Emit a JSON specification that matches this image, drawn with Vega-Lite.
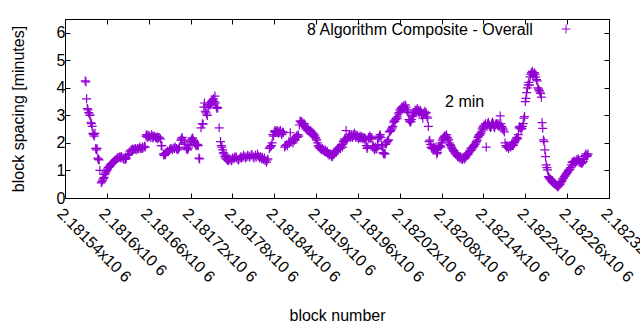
{
"$schema": "https://vega.github.io/schema/vega-lite/v6.json",
"width": 544, "height": 179,
"autosize": "none",
"padding": {"left": 65, "top": 19, "right": 31, "bottom": 132},
"background": "white",
"config": {
 "font": "Liberation Sans",
 "view": {"stroke": "black", "strokeWidth": 1},
 "axis": {"grid": false, "domainColor": "black", "tickColor": "black", "labelColor": "black", "titleColor": "black", "labelFont": "Liberation Sans", "titleFont": "Liberation Sans", "labelFontSize": 16, "titleFontSize": 16, "titleFontWeight": "normal", "tickSize": -5, "labelOverlap": false, "labelFlush": false, "labelBound": false}
},
"resolve": {"axis": {"x": "independent", "y": "independent"}},
"datasets": {"pts": [
{"b":2181569,"v":4.25},{"b":2181570,"v":4.22},{"b":2181571,"v":3.6},{"b":2181572,"v":3.25},{"b":2181573,"v":3.2},{"b":2181574,"v":3.1},{"b":2181575,"v":3.05},{"b":2181576,"v":3.0},{"b":2181577,"v":2.75},{"b":2181578,"v":2.7},{"b":2181579,"v":2.6},{"b":2181580,"v":2.35},{"b":2181581,"v":2.3},{"b":2181582,"v":2.25},{"b":2181583,"v":2.35},{"b":2181584,"v":1.8},{"b":2181585,"v":1.75},{"b":2181586,"v":1.8},{"b":2181587,"v":1.45},{"b":2181588,"v":1.4},{"b":2181589,"v":1.38},{"b":2181590,"v":1.0},{"b":2181592,"v":0.55},{"b":2181593,"v":0.6},{"b":2181594,"v":0.65},{"b":2181595,"v":0.7},{"b":2181596,"v":0.75},{"b":2181597,"v":0.85},{"b":2181598,"v":0.9},{"b":2181599,"v":0.95},
{"b":2181600,"v":1.0},{"b":2181601,"v":1.05},{"b":2181602,"v":1.1},{"b":2181603,"v":1.12},{"b":2181604,"v":1.15},{"b":2181605,"v":1.2},{"b":2181606,"v":1.22},{"b":2181607,"v":1.25},{"b":2181608,"v":1.28},{"b":2181610,"v":1.3},{"b":2181611,"v":1.35},{"b":2181612,"v":1.38},{"b":2181614,"v":1.42},{"b":2181615,"v":1.45},{"b":2181616,"v":1.47},{"b":2181618,"v":1.48},{"b":2181619,"v":1.5},{"b":2181620,"v":1.45},{"b":2181621,"v":1.5},{"b":2181623,"v":1.45},{"b":2181624,"v":1.42},{"b":2181626,"v":1.4},{"b":2181627,"v":1.42},{"b":2181628,"v":1.45},{"b":2181630,"v":1.55},{"b":2181631,"v":1.58},{"b":2181632,"v":1.62},{"b":2181633,"v":1.7},{"b":2181635,"v":1.75},{"b":2181636,"v":1.72},{"b":2181637,"v":1.78},{"b":2181638,"v":1.75},{"b":2181640,"v":1.77},{"b":2181641,"v":1.8},{"b":2181642,"v":1.75},{"b":2181644,"v":1.8},{"b":2181645,"v":1.78},{"b":2181647,"v":1.85},{"b":2181648,"v":1.8},{"b":2181650,"v":1.8},{"b":2181651,"v":1.85},{"b":2181652,"v":1.82},{"b":2181654,"v":1.88},{"b":2181655,"v":1.85},{"b":2181656,"v":2.25},{"b":2181657,"v":2.3},{"b":2181658,"v":2.2},{"b":2181659,"v":2.28},{"b":2181660,"v":2.22},{"b":2181661,"v":2.25},{"b":2181663,"v":2.2},{"b":2181664,"v":2.3},{"b":2181665,"v":2.25},{"b":2181666,"v":2.18},{"b":2181667,"v":2.22},{"b":2181668,"v":2.25},{"b":2181670,"v":2.2},{"b":2181671,"v":2.18},{"b":2181672,"v":2.22},{"b":2181673,"v":2.15},{"b":2181674,"v":2.2},{"b":2181675,"v":2.2},{"b":2181677,"v":2.15},{"b":2181678,"v":1.9},{"b":2181679,"v":1.9},{"b":2181681,"v":1.6},{"b":2181682,"v":1.55},{"b":2181683,"v":1.6},{"b":2181684,"v":1.58},{"b":2181685,"v":1.65},{"b":2181687,"v":1.7},{"b":2181688,"v":1.68},{"b":2181690,"v":1.75},{"b":2181691,"v":1.78},{"b":2181692,"v":1.8},{"b":2181694,"v":1.75},{"b":2181695,"v":1.82},{"b":2181697,"v":1.8},{"b":2181698,"v":1.85},
{"b":2181700,"v":1.8},{"b":2181701,"v":1.75},{"b":2181703,"v":1.78},{"b":2181704,"v":1.85},{"b":2181706,"v":2.1},{"b":2181707,"v":2.15},{"b":2181708,"v":2.2},{"b":2181709,"v":2.1},{"b":2181711,"v":2.0},{"b":2181712,"v":1.95},{"b":2181714,"v":1.8},{"b":2181715,"v":1.78},{"b":2181716,"v":1.75},{"b":2181717,"v":1.82},{"b":2181719,"v":1.9},{"b":2181720,"v":2.05},{"b":2181721,"v":2.1},{"b":2181722,"v":2.15},{"b":2181723,"v":2.18},{"b":2181724,"v":2.1},{"b":2181725,"v":2.05},{"b":2181726,"v":2.0},{"b":2181727,"v":1.95},{"b":2181728,"v":1.9},{"b":2181729,"v":1.92},{"b":2181730,"v":1.95},{"b":2181731,"v":1.9},{"b":2181732,"v":1.45},{"b":2181733,"v":1.42},{"b":2181735,"v":2.55},{"b":2181737,"v":2.7},{"b":2181738,"v":2.68},{"b":2181739,"v":3.3},{"b":2181740,"v":3.45},{"b":2181741,"v":3.15},{"b":2181742,"v":3.12},{"b":2181743,"v":3.05},{"b":2181744,"v":3.0},{"b":2181745,"v":3.3},{"b":2181746,"v":3.35},{"b":2181747,"v":3.4},{"b":2181748,"v":3.45},{"b":2181749,"v":3.38},{"b":2181750,"v":3.5},{"b":2181751,"v":3.55},{"b":2181752,"v":3.55},{"b":2181753,"v":3.6},{"b":2181754,"v":3.5},{"b":2181755,"v":3.7},{"b":2181756,"v":3.45},{"b":2181757,"v":3.3},{"b":2181758,"v":3.25},{"b":2181759,"v":3.28},{"b":2181761,"v":2.55},{"b":2181763,"v":2.05},{"b":2181764,"v":1.9},{"b":2181765,"v":1.85},{"b":2181766,"v":1.75},{"b":2181767,"v":1.65},{"b":2181768,"v":1.6},{"b":2181769,"v":1.5},{"b":2181770,"v":1.45},{"b":2181771,"v":1.55},{"b":2181772,"v":1.4},{"b":2181773,"v":1.38},{"b":2181774,"v":1.35},{"b":2181775,"v":1.4},{"b":2181776,"v":1.42},{"b":2181778,"v":1.38},{"b":2181779,"v":1.35},{"b":2181780,"v":1.45},{"b":2181782,"v":1.42},{"b":2181783,"v":1.48},{"b":2181785,"v":1.5},{"b":2181786,"v":1.45},{"b":2181788,"v":1.4},{"b":2181789,"v":1.38},{"b":2181791,"v":1.45},{"b":2181792,"v":1.5},{"b":2181793,"v":1.45},{"b":2181795,"v":1.48},{"b":2181796,"v":1.55},{"b":2181798,"v":1.5},{"b":2181799,"v":1.45},
{"b":2181801,"v":1.5},{"b":2181802,"v":1.55},{"b":2181804,"v":1.52},{"b":2181805,"v":1.48},{"b":2181807,"v":1.55},{"b":2181808,"v":1.58},{"b":2181810,"v":1.5},{"b":2181811,"v":1.45},{"b":2181813,"v":1.55},{"b":2181814,"v":1.48},{"b":2181816,"v":1.6},{"b":2181817,"v":1.52},{"b":2181819,"v":1.45},{"b":2181820,"v":1.5},{"b":2181822,"v":1.42},{"b":2181823,"v":1.48},{"b":2181825,"v":1.4},{"b":2181826,"v":1.45},{"b":2181827,"v":1.35},{"b":2181829,"v":1.3},{"b":2181830,"v":1.38},{"b":2181831,"v":1.42},{"b":2181833,"v":1.8},{"b":2181834,"v":1.85},{"b":2181835,"v":1.88},{"b":2181836,"v":1.9},{"b":2181837,"v":2.0},{"b":2181838,"v":2.3},{"b":2181839,"v":2.25},{"b":2181840,"v":2.4},{"b":2181841,"v":2.45},{"b":2181842,"v":2.38},{"b":2181843,"v":2.42},{"b":2181844,"v":2.45},{"b":2181845,"v":2.4},{"b":2181846,"v":2.35},{"b":2181847,"v":2.42},{"b":2181848,"v":2.38},{"b":2181849,"v":2.45},{"b":2181850,"v":2.35},{"b":2181851,"v":2.3},{"b":2181852,"v":2.4},{"b":2181853,"v":2.38},{"b":2181855,"v":1.85},{"b":2181856,"v":1.9},{"b":2181858,"v":1.95},{"b":2181859,"v":1.9},{"b":2181861,"v":2.05},{"b":2181862,"v":2.0},{"b":2181863,"v":2.37},{"b":2181864,"v":2.05},{"b":2181866,"v":2.1},{"b":2181867,"v":2.0},{"b":2181868,"v":2.15},{"b":2181869,"v":2.1},{"b":2181870,"v":2.12},{"b":2181871,"v":2.2},{"b":2181872,"v":2.25},{"b":2181873,"v":2.2},{"b":2181874,"v":2.3},{"b":2181875,"v":2.25},{"b":2181876,"v":2.65},{"b":2181877,"v":2.8},{"b":2181878,"v":2.75},{"b":2181879,"v":2.78},{"b":2181880,"v":2.7},{"b":2181881,"v":2.72},{"b":2181882,"v":2.65},{"b":2181883,"v":2.7},{"b":2181884,"v":2.6},{"b":2181885,"v":2.55},{"b":2181886,"v":2.5},{"b":2181887,"v":2.55},{"b":2181888,"v":2.45},{"b":2181889,"v":2.5},{"b":2181890,"v":2.42},{"b":2181891,"v":2.4},{"b":2181892,"v":2.45},{"b":2181893,"v":2.35},{"b":2181894,"v":2.4},{"b":2181895,"v":2.3},{"b":2181896,"v":2.35},{"b":2181897,"v":2.25},{"b":2181898,"v":2.28},{"b":2181899,"v":2.2},
{"b":2181900,"v":2.15},{"b":2181901,"v":2.1},{"b":2181902,"v":2.0},{"b":2181903,"v":1.9},{"b":2181904,"v":1.85},{"b":2181905,"v":1.85},{"b":2181906,"v":1.8},{"b":2181907,"v":1.78},{"b":2181908,"v":1.75},{"b":2181909,"v":1.8},{"b":2181910,"v":1.75},{"b":2181911,"v":1.72},{"b":2181912,"v":1.7},{"b":2181913,"v":1.75},{"b":2181914,"v":1.68},{"b":2181915,"v":1.65},{"b":2181916,"v":1.7},{"b":2181917,"v":1.6},{"b":2181918,"v":1.62},{"b":2181919,"v":1.55},{"b":2181920,"v":1.58},{"b":2181921,"v":1.6},{"b":2181922,"v":1.52},{"b":2181923,"v":1.5},{"b":2181924,"v":1.55},{"b":2181925,"v":1.58},{"b":2181926,"v":1.6},{"b":2181927,"v":1.65},{"b":2181928,"v":1.7},{"b":2181929,"v":1.72},{"b":2181930,"v":1.75},{"b":2181931,"v":1.8},{"b":2181932,"v":1.78},{"b":2181933,"v":1.82},{"b":2181934,"v":1.85},{"b":2181935,"v":1.8},{"b":2181936,"v":1.9},{"b":2181937,"v":1.95},{"b":2181938,"v":1.85},{"b":2181939,"v":2.05},{"b":2181940,"v":2.1},{"b":2181941,"v":2.15},{"b":2181942,"v":2.1},{"b":2181943,"v":2.45},{"b":2181944,"v":2.1},{"b":2181945,"v":2.15},{"b":2181946,"v":2.2},{"b":2181947,"v":2.25},{"b":2181948,"v":2.3},{"b":2181949,"v":2.2},{"b":2181950,"v":2.25},{"b":2181951,"v":2.3},{"b":2181952,"v":2.2},{"b":2181953,"v":2.3},{"b":2181954,"v":2.25},{"b":2181955,"v":2.35},{"b":2181956,"v":2.3},{"b":2181957,"v":2.2},{"b":2181958,"v":2.25},{"b":2181959,"v":2.28},{"b":2181960,"v":2.2},{"b":2181961,"v":2.15},{"b":2181962,"v":2.2},{"b":2181963,"v":2.25},{"b":2181964,"v":2.18},{"b":2181965,"v":2.22},{"b":2181966,"v":2.2},{"b":2181967,"v":2.15},{"b":2181968,"v":2.18},{"b":2181969,"v":2.2},{"b":2181970,"v":2.1},{"b":2181971,"v":2.15},{"b":2181972,"v":1.9},{"b":2181973,"v":1.8},{"b":2181974,"v":1.85},{"b":2181975,"v":2.2},{"b":2181976,"v":2.15},{"b":2181977,"v":2.25},{"b":2181978,"v":2.2},{"b":2181979,"v":2.15},{"b":2181980,"v":2.2},{"b":2181981,"v":1.85},{"b":2181982,"v":1.9},{"b":2181983,"v":1.8},{"b":2181984,"v":1.75},{"b":2181985,"v":1.85},{"b":2181986,"v":1.8},{"b":2181987,"v":1.78},{"b":2181988,"v":1.95},{"b":2181989,"v":2.15},{"b":2181990,"v":2.2},{"b":2181991,"v":2.25},{"b":2181992,"v":2.3},{"b":2181993,"v":2.2},{"b":2181994,"v":1.9},{"b":2181995,"v":1.85},{"b":2181996,"v":1.65},{"b":2181997,"v":1.6},{"b":2181998,"v":1.62},{"b":2181999,"v":1.6},
{"b":2182000,"v":1.95},{"b":2182001,"v":2.0},{"b":2182002,"v":2.05},{"b":2182003,"v":2.1},{"b":2182004,"v":2.1},{"b":2182005,"v":2.4},{"b":2182006,"v":2.42},{"b":2182007,"v":2.45},{"b":2182008,"v":2.5},{"b":2182009,"v":2.55},{"b":2182010,"v":2.6},{"b":2182011,"v":2.75},{"b":2182012,"v":2.8},{"b":2182013,"v":2.78},{"b":2182014,"v":2.85},{"b":2182015,"v":2.9},{"b":2182016,"v":2.88},{"b":2182017,"v":2.95},{"b":2182018,"v":3.05},{"b":2182019,"v":3.1},{"b":2182020,"v":3.2},{"b":2182021,"v":3.15},{"b":2182022,"v":3.25},{"b":2182023,"v":3.3},{"b":2182024,"v":3.28},{"b":2182025,"v":3.32},{"b":2182026,"v":3.35},{"b":2182027,"v":3.25},{"b":2182028,"v":3.38},{"b":2182029,"v":3.3},{"b":2182030,"v":3.2},{"b":2182031,"v":3.15},{"b":2182032,"v":3.1},{"b":2182033,"v":2.85},{"b":2182034,"v":2.8},{"b":2182035,"v":2.75},{"b":2182036,"v":2.78},{"b":2182037,"v":2.85},{"b":2182038,"v":3.0},{"b":2182039,"v":2.95},{"b":2182040,"v":3.05},{"b":2182041,"v":3.1},{"b":2182042,"v":3.2},{"b":2182043,"v":3.15},{"b":2182044,"v":3.18},{"b":2182045,"v":3.25},{"b":2182046,"v":3.2},{"b":2182047,"v":3.15},{"b":2182048,"v":3.1},{"b":2182049,"v":3.2},{"b":2182050,"v":3.15},{"b":2182051,"v":3.05},{"b":2182052,"v":3.0},{"b":2182053,"v":2.9},{"b":2182054,"v":3.05},{"b":2182055,"v":3.1},{"b":2182056,"v":3.15},{"b":2182057,"v":3.05},{"b":2182058,"v":3.1},{"b":2182059,"v":2.95},{"b":2182060,"v":2.9},{"b":2182061,"v":2.6},{"b":2182062,"v":2.05},{"b":2182063,"v":2.1},{"b":2182064,"v":1.95},{"b":2182065,"v":1.85},{"b":2182066,"v":1.8},{"b":2182067,"v":1.82},{"b":2182068,"v":1.78},{"b":2182069,"v":1.85},{"b":2182070,"v":1.8},{"b":2182071,"v":1.75},{"b":2182072,"v":1.85},{"b":2182073,"v":1.6},{"b":2182074,"v":1.65},{"b":2182075,"v":1.8},{"b":2182076,"v":1.85},{"b":2182077,"v":1.88},{"b":2182078,"v":1.9},{"b":2182079,"v":1.85},{"b":2182080,"v":2.0},{"b":2182081,"v":2.1},{"b":2182082,"v":2.15},{"b":2182083,"v":2.2},{"b":2182084,"v":2.25},{"b":2182085,"v":2.2},{"b":2182086,"v":2.25},{"b":2182087,"v":2.3},{"b":2182088,"v":2.2},{"b":2182089,"v":2.15},{"b":2182090,"v":2.1},{"b":2182091,"v":2.0},{"b":2182092,"v":1.95},{"b":2182093,"v":1.9},{"b":2182094,"v":1.85},{"b":2182095,"v":1.8},{"b":2182096,"v":1.75},{"b":2182097,"v":1.7},{"b":2182098,"v":1.72},{"b":2182099,"v":1.65},
{"b":2182100,"v":1.6},{"b":2182101,"v":1.62},{"b":2182102,"v":1.55},{"b":2182103,"v":1.5},{"b":2182104,"v":1.52},{"b":2182105,"v":1.48},{"b":2182106,"v":1.45},{"b":2182107,"v":1.5},{"b":2182108,"v":1.42},{"b":2182109,"v":1.45},{"b":2182110,"v":1.4},{"b":2182111,"v":1.48},{"b":2182112,"v":1.45},{"b":2182113,"v":1.42},{"b":2182114,"v":1.5},{"b":2182115,"v":1.48},{"b":2182116,"v":1.55},{"b":2182117,"v":1.6},{"b":2182118,"v":1.58},{"b":2182119,"v":1.65},{"b":2182120,"v":1.7},{"b":2182121,"v":1.72},{"b":2182122,"v":1.8},{"b":2182123,"v":1.75},{"b":2182124,"v":1.85},{"b":2182125,"v":1.82},{"b":2182126,"v":1.9},{"b":2182127,"v":1.88},{"b":2182128,"v":1.95},{"b":2182129,"v":2.0},{"b":2182130,"v":2.05},{"b":2182131,"v":2.1},{"b":2182132,"v":2.2},{"b":2182133,"v":2.25},{"b":2182134,"v":2.3},{"b":2182135,"v":2.28},{"b":2182136,"v":2.35},{"b":2182137,"v":2.4},{"b":2182138,"v":2.5},{"b":2182139,"v":2.55},{"b":2182140,"v":2.6},{"b":2182141,"v":2.65},{"b":2182142,"v":2.6},{"b":2182143,"v":2.7},{"b":2182144,"v":1.85},{"b":2182145,"v":2.6},{"b":2182146,"v":2.7},{"b":2182147,"v":2.75},{"b":2182148,"v":2.65},{"b":2182149,"v":2.6},{"b":2182150,"v":2.55},{"b":2182151,"v":2.6},{"b":2182152,"v":2.7},{"b":2182153,"v":2.75},{"b":2182154,"v":2.7},{"b":2182155,"v":2.6},{"b":2182156,"v":2.55},{"b":2182157,"v":2.65},{"b":2182158,"v":2.7},{"b":2182159,"v":2.7},{"b":2182160,"v":2.65},{"b":2182161,"v":2.7},{"b":2182162,"v":2.6},{"b":2182163,"v":2.65},{"b":2182164,"v":2.98},{"b":2182165,"v":2.7},{"b":2182166,"v":2.6},{"b":2182167,"v":2.55},{"b":2182168,"v":2.5},{"b":2182169,"v":2.47},{"b":2182170,"v":2.4},{"b":2182171,"v":2.0},{"b":2182172,"v":1.9},{"b":2182173,"v":1.85},{"b":2182174,"v":1.9},{"b":2182175,"v":1.85},{"b":2182176,"v":1.8},{"b":2182177,"v":1.9},{"b":2182178,"v":1.88},{"b":2182179,"v":1.85},{"b":2182180,"v":1.9},{"b":2182181,"v":1.95},{"b":2182182,"v":1.9},{"b":2182183,"v":1.92},{"b":2182184,"v":2.0},{"b":2182185,"v":2.05},{"b":2182186,"v":2.1},{"b":2182187,"v":2.15},{"b":2182188,"v":2.2},{"b":2182189,"v":2.15},{"b":2182190,"v":2.3},{"b":2182191,"v":2.55},{"b":2182192,"v":2.6},{"b":2182193,"v":2.55},{"b":2182194,"v":2.5},{"b":2182195,"v":2.53},{"b":2182196,"v":2.6},{"b":2182197,"v":2.7},{"b":2182198,"v":2.9},{"b":2182199,"v":2.96},
{"b":2182200,"v":3.5},{"b":2182201,"v":3.62},{"b":2182202,"v":3.83},{"b":2182203,"v":4.0},{"b":2182204,"v":4.11},{"b":2182205,"v":4.2},{"b":2182206,"v":4.1},{"b":2182207,"v":4.4},{"b":2182208,"v":4.5},{"b":2182209,"v":4.55},{"b":2182210,"v":4.6},{"b":2182211,"v":4.45},{"b":2182212,"v":4.5},{"b":2182213,"v":4.55},{"b":2182214,"v":4.5},{"b":2182215,"v":4.4},{"b":2182216,"v":4.3},{"b":2182217,"v":4.25},{"b":2182218,"v":4.0},{"b":2182219,"v":3.95},{"b":2182220,"v":3.9},{"b":2182221,"v":3.85},{"b":2182222,"v":3.8},{"b":2182223,"v":3.66},{"b":2182224,"v":2.74},{"b":2182225,"v":2.53},{"b":2182226,"v":2.11},{"b":2182227,"v":2.05},{"b":2182228,"v":1.75},{"b":2182229,"v":1.5},{"b":2182230,"v":1.2},{"b":2182231,"v":1.1},{"b":2182232,"v":1.02},{"b":2182233,"v":0.78},{"b":2182234,"v":0.75},{"b":2182235,"v":0.7},{"b":2182236,"v":0.68},{"b":2182237,"v":0.65},{"b":2182238,"v":0.6},{"b":2182239,"v":0.58},{"b":2182240,"v":0.55},{"b":2182241,"v":0.55},{"b":2182242,"v":0.5},{"b":2182243,"v":0.52},{"b":2182244,"v":0.48},{"b":2182245,"v":0.45},{"b":2182246,"v":0.42},{"b":2182247,"v":0.4},{"b":2182248,"v":0.45},{"b":2182249,"v":0.48},{"b":2182250,"v":0.5},{"b":2182251,"v":0.55},{"b":2182252,"v":0.6},{"b":2182253,"v":0.65},{"b":2182254,"v":0.7},{"b":2182255,"v":0.72},{"b":2182256,"v":0.78},{"b":2182257,"v":0.8},{"b":2182258,"v":0.85},{"b":2182259,"v":0.88},{"b":2182260,"v":0.92},{"b":2182261,"v":0.95},{"b":2182262,"v":1.0},{"b":2182263,"v":1.02},{"b":2182264,"v":1.05},{"b":2182265,"v":1.1},{"b":2182266,"v":1.2},{"b":2182267,"v":1.3},{"b":2182268,"v":1.28},{"b":2182269,"v":1.32},{"b":2182270,"v":1.3},{"b":2182271,"v":1.35},{"b":2182272,"v":1.28},{"b":2182273,"v":1.32},{"b":2182274,"v":1.4},{"b":2182275,"v":1.35},{"b":2182276,"v":1.42},{"b":2182277,"v":1.3},{"b":2182278,"v":1.35},{"b":2182279,"v":1.28},{"b":2182280,"v":1.3},{"b":2182281,"v":1.25},{"b":2182282,"v":1.3},{"b":2182283,"v":1.32},{"b":2182284,"v":1.4},{"b":2182285,"v":1.5},{"b":2182286,"v":1.55},{"b":2182287,"v":1.6},{"b":2182288,"v":1.5},{"b":2182289,"v":1.55},{"b":2182290,"v":1.6}
]},
"layer": [
 {
  "data": {"name": "pts"},
  "mark": {"type": "point", "shape": "M-1,0L1,0M0,-1L0,1", "filled": false, "size": 81, "strokeWidth": 1.2, "opacity": 1},
  "encoding": {
   "x": {"field": "b", "type": "quantitative", "scale": {"domain": [2181540, 2182320], "nice": false, "zero": false},
    "axis": {"orient": "bottom", "title": "block number", "values": [2181540,2181600,2181660,2181720,2181780,2181840,2181900,2181960,2182020,2182080,2182140,2182200,2182260,2182320], "labelExpr": "format(datum.value/1000000, '.6~g') + 'x10 6'", "labelAngle": 45, "labelAlign": "left", "labelBaseline": "top", "labelPadding": 12, "titleY": 117, "titleBaseline": "middle"}},
   "y": {"field": "v", "type": "quantitative", "scale": {"domain": [0, 6.5], "nice": false, "zero": true},
    "axis": {"orient": "left", "title": "block spacing [minutes]", "values": [0,1,2,3,4,5,6], "labelPadding": 5, "titleX": -47, "titleBaseline": "middle"}},
   "color": {"datum": "8 Algorithm Composite - Overall", "scale": {"range": ["#9400d3"]},
    "legend": {"orient": "none", "legendX": 242, "legendY": 5, "title": "8 Algorithm Composite - Overall", "titleOrient": "left", "titleAngle": 0, "titleLimit": 400, "titleFontSize": 16, "titleFontWeight": "normal", "titleColor": "black", "titleFont": "Liberation Sans", "titleBaseline": "middle", "titlePadding": 27, "labelExpr": "''", "symbolType": "M-1,0L1,0M0,-1L0,1", "symbolSize": 81, "symbolStrokeWidth": 1}}
  }
 },
 {
  "mark": {"type": "rule", "color": "#00ff00", "strokeWidth": 4},
  "encoding": {"y": {"datum": 2, "type": "quantitative", "scale": {"domain": [0, 6.5], "nice": false, "zero": true}, "axis": {"orient": "right", "title": null, "labels": false, "values": [0,1,2,3,4,5,6]}}}
 },
 {
  "data": {"values": [{"b": 2182085, "v": 3.47, "label": "2 min"}]},
  "mark": {"type": "text", "align": "left", "baseline": "middle", "fontSize": 16, "font": "Liberation Sans", "color": "black"},
  "encoding": {
   "x": {"field": "b", "type": "quantitative", "scale": {"domain": [2181540, 2182320], "nice": false, "zero": false}, "axis": {"orient": "top", "title": null, "labels": false, "values": [2181540,2181600,2181660,2181720,2181780,2181840,2181900,2181960,2182020,2182080,2182140,2182200,2182260,2182320]}},
   "y": {"field": "v", "type": "quantitative", "scale": {"domain": [0, 6.5], "nice": false, "zero": true}, "axis": null},
   "text": {"field": "label"}
  }
 }
]
}
